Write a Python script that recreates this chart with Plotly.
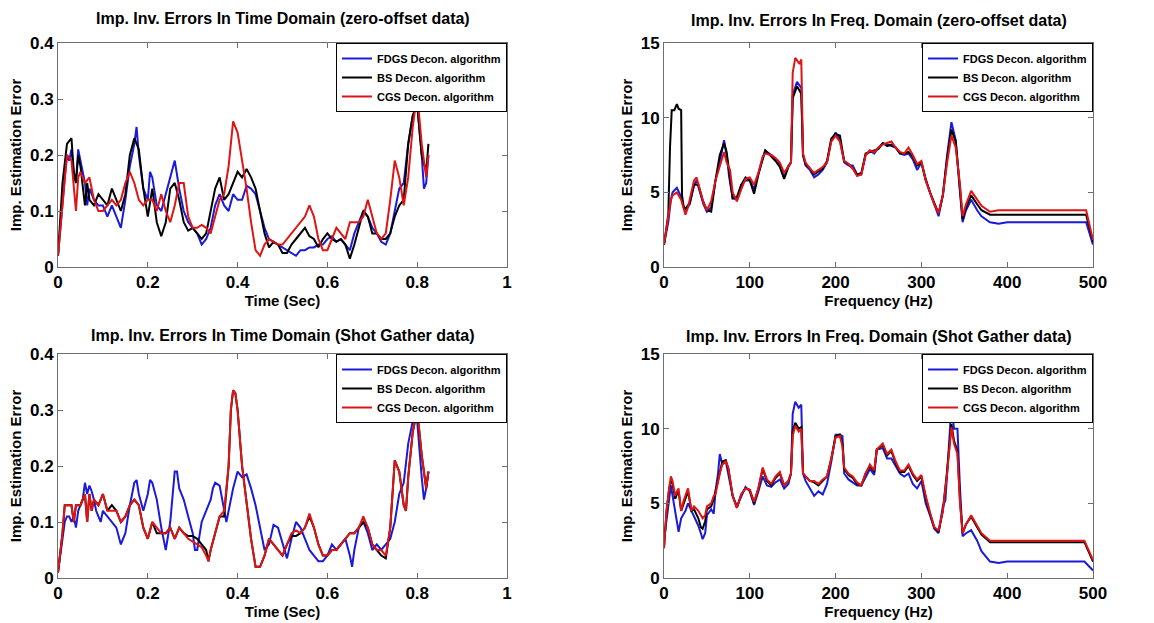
import plotly.graph_objects as go

# ---------------- data (x, y) pairs ----------------
series_names = ["FDGS Decon. algorithm", "BS Decon. algorithm", "CGS Decon. algorithm"]
series_colors = ["#1a1ad8", "#000000", "#e01414"]

titles = [
    "Imp. Inv. Errors In Time Domain (zero-offset data)",
    "Imp. Inv. Errors In Freq. Domain (zero-offset data)",
    "Imp. Inv. Errors In Time Domain (Shot Gather data)",
    "Imp. Inv. Errors In Freq. Domain (Shot Gather data)",
]
x_titles = ["Time (Sec)", "Frequency (Hz)", "Time (Sec)", "Frequency (Hz)"]
y_title = "Imp. Estimation Error"

# Top-left: time domain, zero-offset
tl_fdgs = [(0,0.02),(0.01,0.12),(0.015,0.16),(0.02,0.20),(0.025,0.19),(0.03,0.21),(0.035,0.17),(0.04,0.15),
           (0.045,0.21),(0.05,0.19),(0.06,0.15),(0.065,0.11),(0.07,0.14),(0.08,0.12),(0.09,0.11),(0.1,0.11),
           (0.11,0.09),(0.12,0.11),(0.13,0.09),(0.14,0.07),(0.15,0.12),(0.16,0.18),(0.17,0.22),(0.175,0.25),
           (0.18,0.20),(0.19,0.14),(0.2,0.12),(0.205,0.17),(0.21,0.16),(0.22,0.11),(0.23,0.10),(0.24,0.13),
           (0.25,0.16),(0.26,0.19),(0.27,0.14),(0.28,0.10),(0.29,0.08),(0.3,0.07),(0.31,0.06),(0.32,0.04),
           (0.33,0.05),(0.34,0.07),(0.35,0.11),(0.36,0.13),(0.37,0.11),(0.38,0.10),(0.39,0.13),(0.4,0.12),
           (0.41,0.12),(0.42,0.145),(0.43,0.14),(0.44,0.13),(0.45,0.10),(0.46,0.07),(0.47,0.05),(0.48,0.045),
           (0.49,0.04),(0.5,0.035),(0.51,0.03),(0.52,0.025),(0.53,0.02),(0.54,0.03),(0.55,0.03),(0.56,0.035),
           (0.57,0.035),(0.58,0.04),(0.59,0.04),(0.6,0.05),(0.61,0.055),(0.62,0.045),(0.63,0.05),(0.64,0.04),
           (0.65,0.03),(0.66,0.06),(0.67,0.08),(0.68,0.10),(0.69,0.09),(0.7,0.07),(0.71,0.06),(0.72,0.045),
           (0.73,0.04),(0.74,0.06),(0.75,0.10),(0.76,0.14),(0.77,0.15),(0.78,0.22),(0.79,0.27),(0.8,0.29),
           (0.81,0.20),(0.815,0.14),(0.82,0.15),(0.825,0.20)]
tl_bs = [(0,0.02),(0.01,0.15),(0.02,0.22),(0.03,0.23),(0.035,0.17),(0.04,0.15),(0.045,0.20),(0.05,0.18),
         (0.06,0.11),(0.065,0.15),(0.07,0.12),(0.08,0.11),(0.09,0.13),(0.1,0.12),(0.11,0.11),(0.12,0.14),
         (0.13,0.12),(0.14,0.10),(0.15,0.13),(0.16,0.20),(0.17,0.23),(0.18,0.21),(0.19,0.14),(0.2,0.09),
         (0.21,0.14),(0.22,0.08),(0.23,0.055),(0.24,0.08),(0.25,0.14),(0.26,0.15),(0.27,0.12),(0.28,0.08),
         (0.29,0.065),(0.3,0.07),(0.31,0.06),(0.32,0.05),(0.33,0.06),(0.34,0.10),(0.35,0.14),(0.36,0.16),
         (0.37,0.12),(0.38,0.13),(0.39,0.15),(0.4,0.17),(0.41,0.16),(0.42,0.175),(0.43,0.16),(0.44,0.14),
         (0.45,0.10),(0.46,0.06),(0.47,0.035),(0.48,0.045),(0.49,0.04),(0.5,0.025),(0.51,0.025),(0.52,0.04),
         (0.53,0.05),(0.54,0.06),(0.55,0.07),(0.56,0.055),(0.57,0.05),(0.58,0.035),(0.59,0.05),(0.6,0.06),
         (0.61,0.05),(0.62,0.045),(0.63,0.05),(0.64,0.04),(0.65,0.015),(0.66,0.04),(0.67,0.07),(0.68,0.10),
         (0.69,0.09),(0.7,0.06),(0.71,0.06),(0.72,0.05),(0.73,0.05),(0.74,0.06),(0.75,0.09),(0.76,0.11),
         (0.77,0.12),(0.78,0.22),(0.79,0.27),(0.8,0.29),(0.81,0.20),(0.82,0.17),(0.825,0.22)]
tl_cgs = [(0,0.02),(0.01,0.11),(0.02,0.20),(0.03,0.19),(0.035,0.15),(0.04,0.10),(0.045,0.16),(0.05,0.17),
          (0.06,0.15),(0.07,0.16),(0.08,0.12),(0.09,0.10),(0.1,0.10),(0.11,0.11),(0.12,0.12),(0.13,0.11),
          (0.14,0.12),(0.15,0.15),(0.16,0.17),(0.17,0.15),(0.18,0.12),(0.19,0.11),(0.2,0.12),(0.21,0.12),
          (0.22,0.10),(0.23,0.13),(0.24,0.10),(0.25,0.08),(0.26,0.11),(0.27,0.15),(0.28,0.15),(0.29,0.09),
          (0.3,0.07),(0.31,0.07),(0.32,0.075),(0.33,0.07),(0.34,0.06),(0.35,0.09),(0.36,0.12),(0.37,0.13),
          (0.38,0.18),(0.39,0.26),(0.4,0.24),(0.41,0.19),(0.42,0.14),(0.43,0.08),(0.44,0.03),(0.45,0.02),
          (0.46,0.04),(0.47,0.05),(0.48,0.045),(0.49,0.04),(0.5,0.04),(0.51,0.05),(0.52,0.06),(0.53,0.07),
          (0.54,0.08),(0.55,0.09),(0.56,0.11),(0.57,0.09),(0.58,0.05),(0.59,0.03),(0.6,0.03),(0.61,0.05),
          (0.62,0.07),(0.63,0.06),(0.64,0.05),(0.65,0.08),(0.66,0.08),(0.67,0.08),(0.68,0.09),(0.69,0.12),
          (0.7,0.09),(0.71,0.06),(0.72,0.05),(0.73,0.06),(0.74,0.12),(0.75,0.19),(0.76,0.16),(0.77,0.11),
          (0.78,0.16),(0.79,0.25),(0.8,0.31),(0.81,0.22),(0.82,0.16),(0.825,0.20)]

# Top-right: frequency domain, zero-offset
tr_fdgs = [(0,1.5),(5,3.0),(8,4.5),(10,5.0),(15,5.3),(20,4.7),(22,4.2),(25,3.8),(30,4.2),(35,5.5),(38,5.8),
           (42,5.0),(46,4.2),(50,3.7),(55,4.0),(60,5.8),(65,7.0),(70,8.5),(73,7.5),(76,6.0),(80,4.6),(85,4.5),
           (90,5.5),(95,5.8),(100,5.8),(105,5.2),(110,6.3),(115,7.3),(118,7.8),(125,7.5),(130,7.2),(135,6.8),
           (140,6.0),(145,6.8),(148,7.0),(150,11.5),(155,12.4),(160,12.0),(162,7.5),(165,6.8),(170,6.5),
           (175,6.0),(180,6.2),(185,6.5),(190,7.0),(195,8.5),(200,9.0),(205,8.5),(210,7.0),(215,6.8),(220,6.8),
           (225,6.2),(230,6.2),(235,7.5),(240,7.8),(245,7.6),(250,8.0),(255,8.3),(260,8.2),(265,8.1),(270,8.0),
           (275,7.6),(280,7.5),(285,7.6),(290,7.2),(295,6.5),(300,7.0),(305,5.8),(310,5.0),(315,4.2),(320,3.4),
           (325,4.8),(330,7.5),(335,9.7),(340,8.5),(345,5.0),(348,3.0),(352,3.8),(358,4.5),(365,3.8),(370,3.4),
           (380,3.0),(390,2.9),(400,3.0),(450,3.0),(492,3.0),(500,1.5)]
tr_bs = [(0,1.5),(5,3.5),(7,8.0),(9,10.5),(12,10.5),(15,10.9),(17,10.6),(20,10.5),(21,4.8),(23,4.0),(25,3.9),
         (30,4.3),(35,5.5),(40,5.5),(45,4.5),(50,3.8),(55,3.7),(60,5.8),(65,7.5),(70,8.3),(73,7.7),(77,6.0),
         (80,4.6),(85,4.7),(90,5.5),(95,6.0),(100,5.8),(105,4.9),(110,6.2),(115,7.2),(118,7.8),(125,7.4),
         (130,7.1),(135,6.7),(140,5.9),(145,6.7),(148,7.0),(150,11.3),(155,12.1),(160,11.6),(162,7.5),(165,6.9),
         (170,6.6),(175,6.2),(180,6.4),(185,6.6),(190,7.1),(195,8.6),(200,8.9),(205,8.8),(210,7.1),(215,6.9),
         (220,6.6),(225,6.2),(230,6.3),(235,7.6),(240,7.7),(245,7.8),(250,7.9),(255,8.3),(260,8.1),(265,8.2),
         (270,8.0),(275,7.6),(280,7.6),(285,7.7),(290,7.4),(295,6.8),(300,7.0),(305,5.9),(310,5.0),(315,4.3),
         (320,3.6),(325,4.8),(330,7.3),(335,9.2),(340,8.4),(345,5.2),(348,3.2),(352,4.0),(358,4.8),(365,4.2),
         (370,3.8),(380,3.5),(390,3.5),(400,3.5),(450,3.5),(492,3.5),(500,1.7)]
tr_cgs = [(0,1.5),(5,3.5),(8,4.5),(10,4.8),(15,5.0),(20,4.5),(25,3.5),(28,4.0),(35,5.8),(38,6.0),(42,5.2),
          (46,4.3),(50,3.8),(55,4.4),(60,5.8),(65,6.8),(70,7.7),(73,7.0),(77,6.5),(80,5.0),(85,4.4),(90,5.2),
          (95,5.9),(100,6.0),(105,5.5),(110,6.3),(115,7.4),(118,7.6),(125,7.5),(130,7.3),(135,7.0),(140,6.3),
          (145,6.8),(148,7.0),(150,13.0),(153,14.0),(158,13.6),(160,13.9),(162,7.6),(165,7.0),(170,6.6),
          (175,6.3),(180,6.5),(185,6.7),(190,7.0),(195,8.4),(200,8.8),(205,8.4),(210,7.1),(215,6.9),(220,6.6),
          (225,6.1),(230,6.2),(235,7.5),(240,7.8),(245,7.7),(250,8.0),(255,8.2),(260,8.3),(265,8.4),(270,8.0),
          (275,7.7),(280,7.6),(285,8.0),(290,7.5),(295,6.9),(300,7.1),(305,5.8),(310,5.0),(315,4.2),(320,3.6),
          (325,4.8),(330,7.0),(335,8.8),(340,8.0),(345,5.5),(348,3.4),(352,4.2),(358,5.1),(365,4.5),(370,4.1),
          (380,3.7),(390,3.8),(400,3.8),(450,3.8),(492,3.8),(500,1.8)]

# Bottom-left: time domain, shot gather
bl_fdgs = [(0,0.01),(0.01,0.07),(0.015,0.10),(0.02,0.11),(0.025,0.11),(0.03,0.10),(0.035,0.11),(0.04,0.09),
           (0.045,0.12),(0.05,0.13),(0.055,0.14),(0.06,0.17),(0.065,0.15),(0.07,0.165),(0.075,0.155),(0.08,0.14),
           (0.085,0.12),(0.09,0.11),(0.095,0.10),(0.1,0.12),(0.11,0.11),(0.12,0.10),(0.13,0.09),(0.14,0.06),
           (0.15,0.08),(0.16,0.13),(0.17,0.17),(0.175,0.175),(0.18,0.15),(0.19,0.12),(0.2,0.15),(0.205,0.175),
           (0.21,0.17),(0.22,0.14),(0.23,0.09),(0.24,0.05),(0.25,0.10),(0.26,0.19),(0.265,0.19),(0.27,0.16),
           (0.28,0.14),(0.29,0.11),(0.3,0.08),(0.305,0.05),(0.31,0.05),(0.32,0.10),(0.33,0.12),(0.34,0.14),
           (0.345,0.16),(0.35,0.17),(0.36,0.165),(0.37,0.12),(0.375,0.10),(0.38,0.12),(0.39,0.16),(0.4,0.19),
           (0.41,0.18),(0.42,0.185),(0.43,0.16),(0.44,0.13),(0.45,0.09),(0.46,0.05),(0.47,0.06),(0.48,0.095),
           (0.49,0.09),(0.5,0.06),(0.51,0.035),(0.52,0.07),(0.53,0.10),(0.54,0.09),(0.55,0.07),(0.56,0.05),
           (0.57,0.04),(0.58,0.03),(0.59,0.03),(0.6,0.04),(0.61,0.06),(0.62,0.05),(0.63,0.06),(0.64,0.07),
           (0.65,0.04),(0.655,0.02),(0.66,0.05),(0.67,0.09),(0.68,0.10),(0.69,0.08),(0.7,0.05),(0.71,0.06),
           (0.72,0.05),(0.73,0.06),(0.74,0.07),(0.75,0.10),(0.76,0.15),(0.77,0.17),(0.78,0.24),(0.79,0.28),
           (0.8,0.28),(0.81,0.18),(0.815,0.14),(0.82,0.16),(0.825,0.19)]
bl_bs = [(0,0.01),(0.01,0.08),(0.015,0.13),(0.02,0.13),(0.03,0.13),(0.035,0.10),(0.04,0.13),(0.05,0.13),
         (0.055,0.14),(0.06,0.15),(0.065,0.10),(0.07,0.15),(0.075,0.12),(0.08,0.14),(0.09,0.13),(0.1,0.15),
         (0.11,0.12),(0.12,0.13),(0.13,0.12),(0.14,0.10),(0.15,0.11),(0.16,0.13),(0.17,0.14),(0.18,0.13),
         (0.19,0.09),(0.2,0.07),(0.21,0.10),(0.22,0.08),(0.23,0.08),(0.24,0.08),(0.25,0.09),(0.26,0.07),
         (0.27,0.09),(0.28,0.08),(0.29,0.075),(0.3,0.075),(0.31,0.07),(0.32,0.06),(0.33,0.05),(0.335,0.03),
         (0.34,0.05),(0.35,0.08),(0.36,0.11),(0.37,0.11),(0.38,0.20),(0.385,0.30),(0.39,0.335),(0.395,0.33),
         (0.4,0.30),(0.41,0.20),(0.42,0.13),(0.43,0.07),(0.44,0.02),(0.45,0.02),(0.46,0.04),(0.47,0.07),
         (0.48,0.06),(0.49,0.05),(0.5,0.04),(0.51,0.06),(0.52,0.075),(0.53,0.075),(0.54,0.08),(0.55,0.09),
         (0.56,0.11),(0.57,0.09),(0.58,0.06),(0.59,0.04),(0.6,0.04),(0.61,0.05),(0.62,0.05),(0.63,0.06),
         (0.64,0.07),(0.65,0.08),(0.66,0.08),(0.67,0.09),(0.68,0.10),(0.69,0.09),(0.7,0.06),(0.71,0.05),
         (0.72,0.04),(0.73,0.035),(0.74,0.09),(0.75,0.21),(0.76,0.19),(0.77,0.13),(0.775,0.12),(0.78,0.18),
         (0.79,0.26),(0.8,0.30),(0.81,0.22),(0.82,0.16),(0.825,0.19)]
bl_cgs = [(0,0.01),(0.01,0.08),(0.015,0.13),(0.02,0.13),(0.03,0.13),(0.035,0.10),(0.04,0.13),(0.05,0.13),
          (0.055,0.14),(0.06,0.15),(0.065,0.10),(0.07,0.15),(0.075,0.12),(0.08,0.14),(0.09,0.13),(0.1,0.15),
          (0.11,0.12),(0.12,0.12),(0.13,0.12),(0.14,0.10),(0.15,0.11),(0.16,0.13),(0.17,0.14),(0.18,0.13),
          (0.19,0.09),(0.2,0.07),(0.21,0.10),(0.22,0.09),(0.23,0.08),(0.24,0.08),(0.25,0.09),(0.26,0.07),
          (0.27,0.09),(0.28,0.08),(0.29,0.07),(0.3,0.065),(0.31,0.06),(0.32,0.055),(0.33,0.04),(0.335,0.03),
          (0.34,0.05),(0.35,0.08),(0.36,0.11),(0.37,0.12),(0.38,0.20),(0.385,0.30),(0.39,0.335),(0.395,0.33),
          (0.4,0.30),(0.41,0.20),(0.42,0.13),(0.43,0.07),(0.44,0.02),(0.45,0.02),(0.46,0.04),(0.47,0.07),
          (0.48,0.06),(0.49,0.05),(0.5,0.04),(0.51,0.06),(0.52,0.08),(0.53,0.085),(0.54,0.08),(0.55,0.09),
          (0.56,0.115),(0.57,0.09),(0.58,0.06),(0.59,0.04),(0.6,0.04),(0.61,0.05),(0.62,0.05),(0.63,0.06),
          (0.64,0.07),(0.65,0.08),(0.66,0.08),(0.67,0.09),(0.68,0.11),(0.69,0.09),(0.7,0.06),(0.71,0.05),
          (0.72,0.05),(0.73,0.04),(0.74,0.09),(0.75,0.21),(0.76,0.19),(0.77,0.13),(0.775,0.12),(0.78,0.18),
          (0.79,0.26),(0.8,0.30),(0.81,0.22),(0.82,0.16),(0.825,0.19)]

# Bottom-right: frequency domain, shot gather
br_fdgs = [(0,2.5),(3,4.0),(6,5.5),(8,6.2),(10,5.5),(13,4.5),(15,3.8),(17,3.1),(20,4.0),(25,4.5),(28,5.0),
           (32,4.5),(35,4.2),(40,3.5),(43,3.0),(45,2.6),(48,3.0),(50,4.2),(55,4.6),(58,4.3),(60,5.8),(63,7.0),
           (65,8.3),(68,7.6),(72,7.8),(75,7.0),(80,5.5),(85,4.8),(90,5.5),(95,6.1),(100,5.8),(105,4.9),(110,5.8),
           (115,6.8),(120,6.2),(125,6.1),(130,6.4),(135,6.6),(140,6.0),(145,6.3),(148,7.0),(150,11.0),(153,11.8),
           (157,11.4),(160,11.6),(162,7.0),(165,6.5),(170,6.0),(175,5.5),(180,5.8),(185,5.6),(190,6.3),(195,7.8),
           (200,9.6),(205,9.6),(208,9.5),(210,7.0),(215,6.6),(220,6.4),(225,6.2),(230,6.2),(235,6.8),(240,7.3),
           (245,6.9),(248,8.6),(255,8.7),(260,8.0),(265,8.0),(270,7.5),(275,7.0),(280,6.8),(285,7.0),(290,6.3),
           (295,6.0),(300,6.5),(305,5.0),(310,4.2),(315,3.3),(320,3.0),(325,4.8),(328,5.2),(332,9.0),(335,11.5),
           (338,10.0),(342,10.0),(345,6.0),(348,2.8),(352,3.0),(358,3.2),(365,2.5),(370,1.8),(380,1.1),(390,1.0),
           (400,1.1),(450,1.1),(490,1.1),(500,0.5)]
br_bs = [(0,2.0),(3,4.5),(6,6.0),(8,6.5),(10,6.3),(13,5.3),(15,5.6),(17,5.8),(20,4.5),(23,5.0),(28,5.8),
         (32,4.5),(35,4.6),(40,4.0),(43,3.4),(45,3.3),(48,3.8),(50,4.6),(55,4.8),(58,5.3),(60,5.8),(65,7.2),
         (68,7.8),(72,7.9),(75,7.3),(80,5.5),(85,4.7),(90,5.6),(95,6.0),(100,5.9),(105,5.0),(110,6.0),(115,7.3),
         (120,6.5),(125,6.2),(130,6.7),(135,7.0),(140,6.2),(145,6.5),(148,7.0),(150,9.8),(153,10.4),(157,10.0),
         (160,10.1),(162,7.0),(165,6.8),(170,6.5),(175,6.4),(180,6.2),(185,6.5),(190,6.8),(195,8.0),(200,9.5),
         (205,9.6),(208,9.0),(210,7.3),(215,6.9),(220,6.7),(225,6.3),(230,6.2),(235,7.0),(240,7.5),(245,7.1),
         (248,8.6),(255,8.9),(260,8.2),(265,8.5),(270,7.7),(275,7.1),(280,7.1),(285,7.5),(290,6.9),(295,6.5),
         (300,6.8),(305,5.4),(310,4.3),(315,3.4),(320,3.1),(325,4.5),(330,7.2),(335,10.3),(338,9.2),(342,8.5),
         (345,5.2),(348,3.0),(352,3.6),(358,4.1),(365,3.4),(370,2.9),(380,2.4),(390,2.4),(400,2.4),(450,2.4),
         (490,2.4),(500,1.1)]
br_cgs = [(0,2.0),(3,4.5),(6,6.0),(8,6.8),(10,6.5),(13,5.5),(15,5.8),(17,6.0),(20,4.5),(23,5.2),(28,6.0),
          (32,4.5),(35,4.8),(40,4.5),(45,4.0),(48,4.2),(50,4.8),(55,5.0),(58,5.5),(60,5.6),(65,7.0),(68,7.6),
          (72,7.8),(75,7.4),(80,5.5),(85,4.7),(90,5.6),(95,6.0),(100,5.9),(105,5.1),(110,6.0),(115,7.4),(120,6.6),
          (125,6.3),(130,6.8),(135,7.1),(140,6.2),(145,6.5),(148,7.0),(150,9.5),(153,10.2),(157,9.8),(160,10.0),
          (162,7.0),(165,6.8),(170,6.5),(175,6.5),(180,6.3),(185,6.6),(190,6.8),(195,8.0),(200,9.4),(205,9.5),
          (208,8.8),(210,7.4),(215,7.0),(220,6.8),(225,6.4),(230,6.2),(235,7.0),(240,7.6),(245,7.2),(248,8.6),
          (255,9.0),(260,8.3),(265,8.6),(270,7.8),(275,7.2),(280,7.2),(285,7.6),(290,7.0),(295,6.6),(300,6.9),
          (305,5.5),(310,4.4),(315,3.4),(320,3.2),(325,4.5),(330,7.0),(335,10.1),(338,9.0),(342,8.3),(345,5.0),
          (348,3.0),(352,3.6),(358,4.2),(365,3.5),(370,3.0),(380,2.5),(390,2.5),(400,2.5),(450,2.5),(490,2.5),
          (500,1.2)]

panels = [
    [tl_fdgs, tl_bs, tl_cgs],
    [tr_fdgs, tr_bs, tr_cgs],
    [bl_fdgs, bl_bs, bl_cgs],
    [br_fdgs, br_bs, br_cgs],
]
x_ranges = [[0, 1], [0, 500], [0, 1], [0, 500]]
x_dticks = [0.2, 100, 0.2, 100]
y_ranges = [[0, 0.4], [0, 15], [0, 0.4], [0, 15]]
y_dticks = [0.1, 5, 0.1, 5]

# ---------------- layout geometry (pixels) ----------------
W, H = 1154, 623
col_px = [(58, 507), (664, 1093), (58, 507), (664, 1093)]
row_px = [(43, 267), (43, 267), (354, 578), (354, 578)]
title_y_px = [19, 21, 335, 336]

fig = go.Figure()
FONT = "Liberation Sans, Arial, sans-serif"
AX = "#6e6e6e"

for p in range(4):
    xa = "x" if p == 0 else f"x{p+1}"
    ya = "y" if p == 0 else f"y{p+1}"
    leg = "legend" if p == 0 else f"legend{p+1}"
    for s in range(3):
        xs = [pt[0] for pt in panels[p][s]]
        ys = [pt[1] for pt in panels[p][s]]
        fig.add_trace(go.Scatter(
            x=xs, y=ys, mode="lines", name=series_names[s],
            line=dict(color=series_colors[s], width=2),
            xaxis=xa, yaxis=ya, legend=leg, showlegend=True,
        ))

layout = dict(
    width=W, height=H, margin=dict(l=0, r=0, t=0, b=0, pad=0, autoexpand=False),
    paper_bgcolor="white", plot_bgcolor="white",
    font=dict(family=FONT, color="black"),
    annotations=[],
)

for p in range(4):
    x0, x1 = col_px[p]
    y0, y1 = row_px[p]
    xd = [x0 / W, x1 / W]
    yd = [1 - y1 / H, 1 - y0 / H]
    xk = "xaxis" if p == 0 else f"xaxis{p+1}"
    yk = "yaxis" if p == 0 else f"yaxis{p+1}"
    ya = "y" if p == 0 else f"y{p+1}"
    xa = "x" if p == 0 else f"x{p+1}"
    common = dict(showline=True, linecolor=AX, linewidth=1, mirror="allticks",
                  ticks="inside", ticklen=5, tickcolor=AX, showgrid=False, zeroline=False,
                  automargin=False,
                  tickfont=dict(family=FONT, size=17, color="black", weight="bold"))
    layout[xk] = dict(domain=xd, range=x_ranges[p], dtick=x_dticks[p], tick0=0, anchor=ya,
                      title=dict(text=x_titles[p], standoff=2,
                                 font=dict(family=FONT, size=15, color="black", weight="bold")),
                      **common)
    layout[yk] = dict(domain=yd, range=y_ranges[p], dtick=y_dticks[p], tick0=0, anchor=xa,
                      title=dict(text=y_title, standoff=4,
                                 font=dict(family=FONT, size=15, color="black", weight="bold")),
                      **common)
    lk = "legend" if p == 0 else f"legend{p+1}"
    layout[lk] = dict(x=xd[1], y=yd[1], xanchor="right", yanchor="top",
                      bgcolor="white", bordercolor="black", borderwidth=1,
                      font=dict(family=FONT, size=11, color="black", weight="bold"),
                      tracegroupgap=0, itemwidth=30)
    layout["annotations"].append(dict(
        text=titles[p], xref="paper", yref="paper",
        x=(xd[0] + xd[1]) / 2, y=1 - title_y_px[p] / H,
        xanchor="center", yanchor="middle", showarrow=False,
        font=dict(family=FONT, size=16, color="black", weight="bold")))

fig.update_layout(**layout)
fig.write_html("out.html")
